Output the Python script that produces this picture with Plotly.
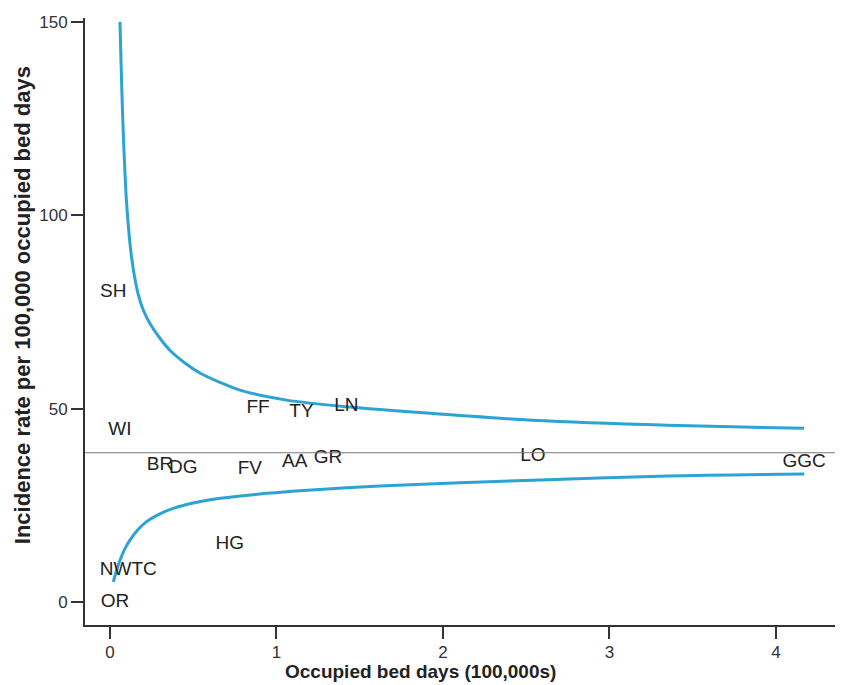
import plotly.graph_objects as go

# Funnel plot data
labels = ["SH", "WI", "FF", "TY", "LN", "BR", "DG", "FV", "AA", "GR", "LO", "GGC", "HG", "NWTC", "OR"]
bed_days = [0.02, 0.06, 0.89, 1.15, 1.42, 0.30, 0.44, 0.84, 1.11, 1.31, 2.54, 4.17, 0.72, 0.11, 0.03]
rates = [80.0, 44.4, 50.1, 49.0, 50.6, 35.4, 34.6, 34.4, 36.2, 37.2, 37.7, 36.2, 15.0, 8.3, 0.0]

mean_rate = 38.6

upper_x = [0.06, 0.07, 0.08, 0.09, 0.10, 0.115, 0.13, 0.15, 0.17, 0.20, 0.24, 0.30, 0.36, 0.45, 0.54, 0.66, 0.78, 1.06, 1.44, 1.98, 2.54, 3.35, 4.17]
upper_y = [150, 134, 121, 111, 103, 95, 89, 83.5, 79.5, 75.5, 72.0, 68.2, 65.1, 61.8, 59.2, 56.8, 54.8, 52.2, 50.4, 48.6, 47.0, 45.7, 44.9]

lower_x = [0.02, 0.04, 0.06, 0.09, 0.12, 0.17, 0.22, 0.30, 0.38, 0.50, 0.64, 0.80, 0.94, 1.14, 1.62, 2.54, 3.35, 4.17]
lower_y = [5.2, 8.2, 10.8, 13.8, 16.0, 18.8, 20.8, 22.8, 24.2, 25.6, 26.7, 27.5, 28.1, 28.8, 30.0, 31.5, 32.6, 33.1]

x_ticks = [0, 1, 2, 3, 4]
y_ticks = [0, 50, 100, 150]

x_title = "Occupied bed days (100,000s)"
y_title = "Incidence rate per 100,000 occupied bed days"

curve_color = "#2ba3d4"
font_family = "Liberation Sans, Arial, sans-serif"

fig = go.Figure()

fig.add_trace(go.Scatter(x=upper_x, y=upper_y, mode="lines",
                         line=dict(color=curve_color, width=3, shape="spline", smoothing=0.8),
                         hoverinfo="skip", showlegend=False))
fig.add_trace(go.Scatter(x=lower_x, y=lower_y, mode="lines",
                         line=dict(color=curve_color, width=3, shape="spline", smoothing=0.8),
                         hoverinfo="skip", showlegend=False))
fig.add_trace(go.Scatter(x=bed_days, y=rates, mode="text", text=labels,
                         textposition="middle center",
                         textfont=dict(family=font_family, size=19, color="#222222"),
                         showlegend=False))

fig.add_shape(type="line", xref="paper", x0=0, x1=1, yref="y", y0=mean_rate, y1=mean_rate,
              line=dict(color="#777777", width=1.2))

fig.add_annotation(text="<b>" + x_title + "</b>", xref="paper", yref="paper",
                   x=0.442, y=-0.077, xanchor="center", yanchor="middle", showarrow=False,
                   font=dict(family=font_family, size=19, color="#222222"))
fig.add_annotation(text="<b>" + y_title + "</b>", xref="paper", yref="paper",
                   x=-0.083, y=0.527, xanchor="center", yanchor="middle", showarrow=False,
                   textangle=-90,
                   font=dict(family=font_family, size=22, color="#222222"))

fig.update_layout(
    width=835, height=677,
    margin=dict(l=77, r=0, t=10, b=60),
    paper_bgcolor="white", plot_bgcolor="white",
    font=dict(family=font_family, color="#222222"),
    showlegend=False,
)

fig.update_xaxes(
    range=[-0.15, 4.403], tickvals=x_ticks, ticktext=[str(v) for v in x_ticks],
    showgrid=False, zeroline=False, showline=True, linecolor="#333333", linewidth=2,
    ticks="outside", ticklen=12, tickwidth=1.5, tickcolor="#333333",
    tickfont=dict(size=17, color="#333333"), automargin=False,
    ticklabelstandoff=-1,
)
fig.update_yaxes(
    range=[-5.94, 151], tickvals=y_ticks, ticktext=[str(v) for v in y_ticks],
    showgrid=False, zeroline=False, showline=True, linecolor="#333333", linewidth=2,
    ticks="outside", ticklen=12, tickwidth=1.5, tickcolor="#333333",
    tickfont=dict(size=17, color="#333333"), automargin=False,
)

fig.write_html("out.html")
